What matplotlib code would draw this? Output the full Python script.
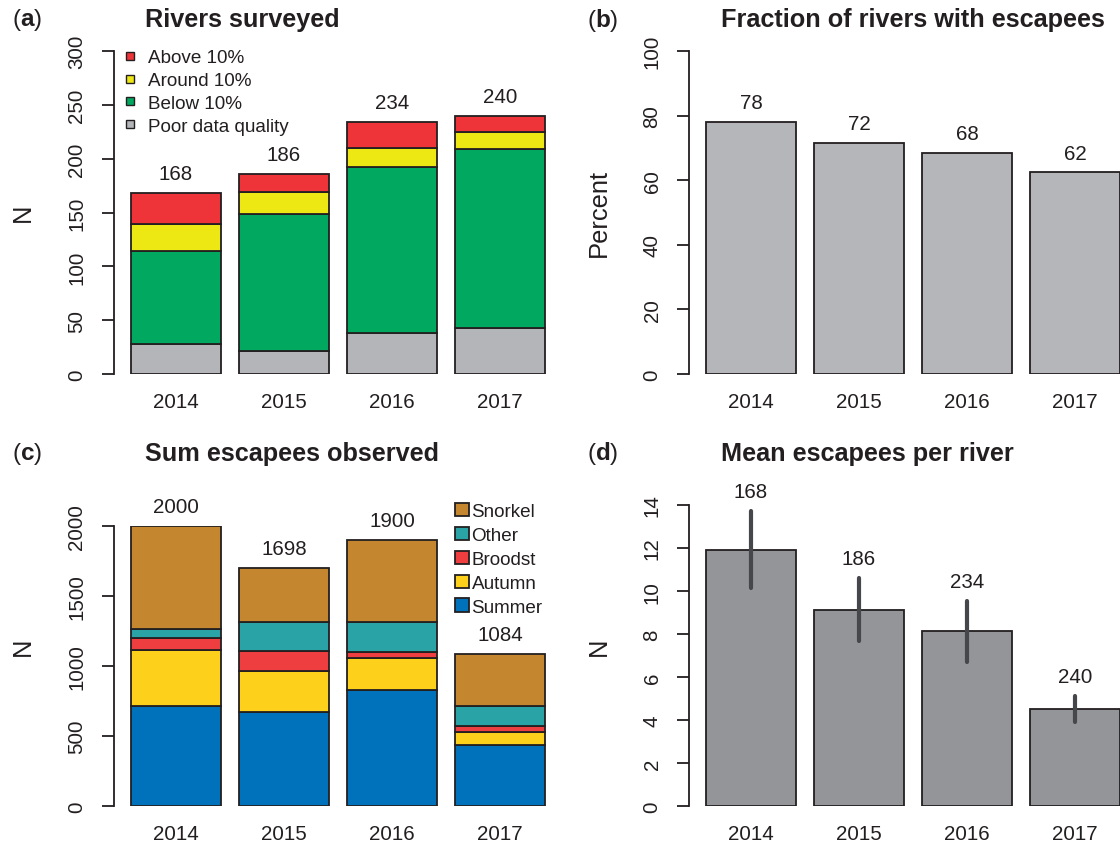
import matplotlib
matplotlib.use("Agg")
import matplotlib.pyplot as plt
from matplotlib.patches import Patch
from matplotlib.lines import Line2D
import numpy as np

plt.rcParams['font.family'] = ['Liberation Sans', 'DejaVu Sans']
plt.rcParams['mathtext.fontset'] = 'custom'
plt.rcParams['mathtext.rm'] = 'Liberation Sans'
plt.rcParams['mathtext.bf'] = 'Liberation Sans:bold'

# ---------------- data ----------------
years = ['2014', '2015', '2016', '2017']

# (a) rivers surveyed
a_poor = [28, 21, 38, 43]
a_below = [86, 128, 154, 166]
a_around = [25, 20, 18, 16]
a_above = [29, 17, 24, 15]
a_totals = [168, 186, 234, 240]

# (b) fraction of rivers with escapees (%)
b_percent = [78.0, 71.6, 68.3, 62.4]

# (c) sum escapees observed
c_summer = [713, 674, 827, 437]
c_autumn = [403, 288, 228, 90]
c_broodst = [84, 143, 47, 48]
c_other = [66, 206, 209, 138]
c_snorkel = [734, 387, 589, 371]
c_totals = [2000, 1698, 1900, 1084]

# (d) mean escapees per river with CI
d_mean = [11.91, 9.12, 8.13, 4.51]
d_lo = [10.13, 7.67, 6.69, 3.90]
d_hi = [13.71, 10.61, 9.55, 5.14]
d_n = [168, 186, 234, 240]

# ---------------- styling ----------------
W, H = 1120, 845
EDGE = '#231F20'
TXT = '#231F20'
FS = 14.8      # tick / value labels
LFS = 13.6     # legend text
TFS = 18.2     # titles
YFS = 18.4     # axis labels
fig = plt.figure(figsize=(W / 100, H / 100), dpi=100)

xpos = np.array([0.7, 1.9, 3.1, 4.3])
PXU = 90.1  # pixels per x unit


def make_ax(left_px, top_px, bottom_px, ylim, yticks):
    xl = (0.016, 4.984)
    width_px = (xl[1] - xl[0]) * PXU
    ax = fig.add_axes([left_px / W, 1 - bottom_px / H, width_px / W,
                       (bottom_px - top_px) / H])
    ax.set_xlim(*xl)
    ax.set_ylim(*ylim)
    for s in ['top', 'right', 'bottom']:
        ax.spines[s].set_visible(False)
    ax.spines['left'].set_color(EDGE)
    ax.spines['left'].set_linewidth(1.3)
    ax.set_yticks(yticks)
    ax.set_yticklabels([str(t) for t in yticks], rotation=90, va='center',
                       fontsize=FS, color=TXT)
    ax.tick_params(axis='y', length=9, width=1.3, color=EDGE, pad=11)
    ax.set_xticks(xpos)
    ax.set_xticklabels(years, fontsize=FS, color=TXT)
    ax.tick_params(axis='x', length=0, pad=13)
    ax.patch.set_visible(False)
    return ax


def panel_label(x_px, y_px, letter, title, title_x):
    fig.text(x_px / W, 1 - y_px / H, '(' + r'$\mathbf{' + letter + '}$' + ')',
             fontsize=17.5, va='center', ha='left', color=TXT)
    fig.text(title_x / W, 1 - y_px / H, title, fontsize=TFS, fontweight='bold',
             va='center', ha='left', color=TXT)


def ylab(x_px, y_px, text):
    fig.text(x_px / W, 1 - y_px / H, text, fontsize=YFS, rotation=90,
             ha='center', va='center', color=TXT)


bar_kw = dict(width=1.0, edgecolor=EDGE, linewidth=1.3)

# ---------------- (a) ----------------
axa = make_ax(114.1, 52, 375, (0, 300), [0, 50, 100, 150, 200, 250, 300])
cols_a = ['#B3B5B9', '#00A95F', '#EDE813', '#EE3439']
segs_a = [a_poor, a_below, a_around, a_above]
bottom = np.zeros(4)
for seg, col in zip(segs_a, cols_a):
    axa.bar(xpos, seg, bottom=bottom, color=col, **bar_kw)
    bottom += np.array(seg)
for x, t in zip(xpos, a_totals):
    axa.annotate(str(t), (x, t), xytext=(0, 14), textcoords='offset points',
                 ha='center', va='center', fontsize=FS, color=TXT)
ylab(23.2, 213, 'N')
hand_a = [Line2D([], [], marker='s', linestyle='none', markersize=5.3,
                 markerfacecolor=c, markeredgecolor=EDGE, markeredgewidth=1.0)
          for c in ['#EE3439', '#EDE813', '#00A95F', '#B3B5B9']]
axa.legend(hand_a, ['Above 10%', 'Around 10%', 'Below 10%', 'Poor data quality'],
           loc='upper left', bbox_to_anchor=(122 / W, 1 - 50 / H),
           bbox_transform=fig.transFigure, frameon=False, fontsize=LFS,
           handlelength=0.8, handletextpad=0.55, labelspacing=0.3,
           borderpad=0, borderaxespad=0, labelcolor=TXT)
panel_label(12.5, 20, 'a', 'Rivers surveyed', 144.6)

# ---------------- (b) ----------------
axb = make_ax(689.3, 52, 375, (0, 100), [0, 20, 40, 60, 80, 100])
axb.bar(xpos, b_percent, color='#B4B6BA', **bar_kw)
for x, v in zip(xpos, b_percent):
    axb.annotate(f'{v:.0f}', (x, v), xytext=(0, 14), textcoords='offset points',
                 ha='center', va='center', fontsize=FS, color=TXT)
ylab(598.4, 213, 'Percent')
panel_label(587, 20, 'b', 'Fraction of rivers with escapees', 721.4)

# ---------------- (c) ----------------
axc = make_ax(114.1, 526.7, 807.3, (0, 2000), [0, 500, 1000, 1500, 2000])
cols_c = ['#0072BC', '#FDD11B', '#EE3E3F', '#2AA3A6', '#C4862E']
names_c = ['Summer', 'Autumn', 'Broodst', 'Other', 'Snorkel']
segs_c = [c_summer, c_autumn, c_broodst, c_other, c_snorkel]
bottom = np.zeros(4)
for seg, col in zip(segs_c, cols_c):
    axc.bar(xpos, seg, bottom=bottom, color=col, **bar_kw)
    bottom += np.array(seg)
for x, t in zip(xpos, c_totals):
    axc.annotate(str(t), (x, t), xytext=(0, 14), textcoords='offset points',
                 ha='center', va='center', fontsize=FS, color=TXT)
ylab(23.2, 646.7, 'N')
hand_c = [Patch(facecolor=c, edgecolor=EDGE, linewidth=1.3) for c in cols_c[::-1]]
axc.legend(hand_c, names_c[::-1], loc='upper left',
           bbox_to_anchor=(454.5 / W, 1 - 504 / H), bbox_transform=fig.transFigure,
           frameon=False, fontsize=LFS, handlelength=0.75, handleheight=0.7,
           handletextpad=0.15, labelspacing=0.35, borderpad=0, borderaxespad=0,
           labelcolor=TXT)
panel_label(12.5, 454, 'c', 'Sum escapees observed', 144.6)

# ---------------- (d) ----------------
axd = make_ax(689.3, 506, 807.3, (0, 14), [0, 2, 4, 6, 8, 10, 12, 14])
axd.bar(xpos, d_mean, color='#939598', **bar_kw)
axd.vlines(xpos, d_lo, d_hi, colors='#45474A', linewidth=3.0, capstyle='round')
for x, hi, n in zip(xpos, d_hi, d_n):
    axd.annotate(str(n), (x, hi), xytext=(0, 14), textcoords='offset points',
                 ha='center', va='center', fontsize=FS, color=TXT)
ylab(598.4, 646.7, 'N')
panel_label(587, 454, 'd', 'Mean escapees per river', 721.4)

for ax in (axa, axb, axc, axd):
    for t in ax.texts:
        t.set_clip_on(False)

fig.savefig('out.png', dpi=100)
